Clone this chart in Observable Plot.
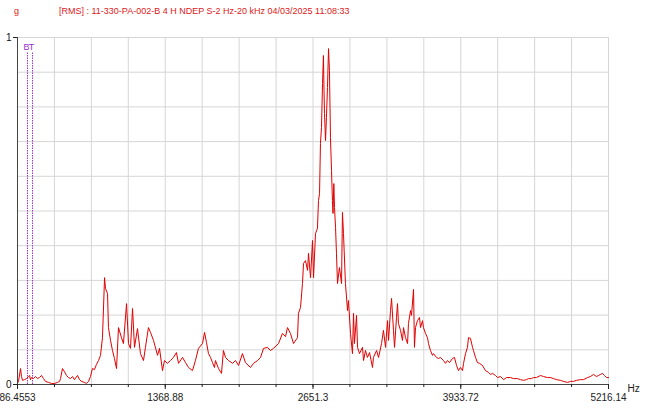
<!DOCTYPE html>
<html><head><meta charset="utf-8">
<script src="https://cdn.jsdelivr.net/npm/d3@7"></script>
<script src="https://cdn.jsdelivr.net/npm/@observablehq/plot@0.6"></script>
<style>
body{margin:0;background:#fff;font-family:"Liberation Sans",Arial,sans-serif;}
#title{position:relative;height:24px;color:#dc2020;font-size:9px;white-space:nowrap;}
#title .unit{position:absolute;left:14px;top:6px;}
#title .main{position:absolute;left:59px;top:6px;}
</style></head><body>
<div id="title"><span class="unit">g</span><span class="main">[RMS] : 11-330-PA-002-B 4 H NDEP S-2 Hz-20 kHz 04/03/2025 11:08:33</span></div>
<div id="chart"></div>
<script>
const freqs = [
 86,95,113,121,130,147,165,182,191,199,208,225,243,260,277,295,312,329,356,382,408,434,451,
 460,477,494,512,529,546,564,581,607,625,642,668,685,703,720,737,755,772,790,807,
 824,842,850,868,876,894,911,928,946,963,989,1006,1033,1050,1067,1085,1102,1128,1154,1180,1197,1223,1241,1267,1302,1319,1345,1362,1388,1414,1440,1466,1484,1519,1545,1571,1605,1631,1657,1692,1710,1727,1744,1762,1779,1796,1805,1831,
 1857,1874,1892,1918,1953,1979,2005,2039,2065,2109,2135,2170,2196,2222,2256,2282,2308,2352,2386,2413,2430,2456,2482,2517,2525,2543,2560,2569,2586,2604,2612,2630,2647,2656,2673,2690,2699,
 2708,2716,2725,2734,2742,2747,2751,2760,2768,2777,2786,2794,2799,2803,2812,2820,2825,2832,2838,2847,2855,2864,2881,2899,2907,2916,2933,
 2951,2959,2977,2994,3003,3011,3029,3038,3055,3081,3090,3107,3124,3142,3168,3176,3203,3220,3246,3263,3281,3298,3307,3324,3333,3350,3359,3376,3385,3393,3411,3428,3437,3454,3472,3480,3498,3506,3524,3532,3541,3558,3576,3584,3602,3610,3628,3645,3654,3671,3688,3697,3723,3741,3758,3784,3801,3819,3836,3862,3879,3897,3914,3931,3949,3958,3975,3992,4001,4018,
 4036,4044,4062,4079,4096,4122,4148,4174,4192,4209,4235,4253,4279,4305,4331,4365,4392,4426,4452,4478,4504,4522,4548,4565,4591,4626,4652,4687,4713,4739,4765,4799,4825,4860,4886,4912,4938,4973,4999,5034,5060,5086,5112,5130,5147,5164,5181,5199,5216
];
const amps = [
 .003,.009,.046,.023,.012,.014,.017,.023,.026,.014,.020,.017,.023,.017,.020,.026,.017,.009,.006,.003,.003,.006,.009,
 .017,.046,.037,.026,.020,.017,.023,.014,.026,.014,.009,.006,.003,.009,.023,.046,.043,.058,.069,.084,
 .135,.308,.277,.262,.164,.127,.098,.075,.046,.164,.135,.118,.233,.118,.104,.219,.107,.161,.089,.069,.107,.164,.150,.127,.084,.104,.040,.069,.061,.069,.078,.092,.061,.078,.063,.049,.040,.069,.104,.118,.150,.121,.089,.078,.063,.049,.069,.046,
 .032,.098,.078,.069,.061,.069,.055,.089,.063,.049,.061,.069,.078,.104,.107,.098,.104,.118,.147,.138,.164,.147,.118,.135,.205,.222,.291,.349,.357,.329,.378,.308,.415,.308,.435,.450,.530,
 .550,.695,.741,.867,.948,.847,.781,.703,.769,.856,.968,.905,.798,.712,.617,.530,.493,.579,.510,.452,.378,.291,.337,.291,.496,.435,.291,
 .213,.242,.147,.089,.205,.118,.199,.107,.089,.107,.069,.098,.078,.092,.049,.078,.098,.078,.118,.156,.107,.184,.127,.213,.248,.156,.107,.193,.233,.176,.156,.127,.164,.135,.118,.176,.213,.199,.274,.107,.164,.184,.193,.164,.184,.164,.147,.135,.118,.098,.084,.089,.078,.075,.078,.069,.061,.069,.063,.075,.078,.055,.040,.049,.040,.061,.089,.107,.135,.133,
 .107,.098,.078,.063,.061,.055,.040,.035,.029,.032,.026,.020,.023,.014,.020,.020,.017,.017,.014,.012,.014,.017,.017,.020,.020,.026,.023,.020,.020,.017,.014,.012,.009,.006,.009,.009,.012,.014,.014,.020,.023,.029,.023,.026,.029,.032,.026,.020,.020
];
const xTickLabels = [86.4553, 1368.88, 2651.3, 3933.72, 5216.14];
const xGrid = [86.4553, 407.06, 727.66, 1048.27, 1368.88, 1689.48, 2010.09, 2330.69, 2651.3, 2971.9, 3292.51, 3613.11, 3933.72, 4254.32, 4574.93, 4895.53, 5216.14];
const yGrid = [0, 0.1, 0.2, 0.3, 0.4, 0.5, 0.6, 0.7, 0.8, 0.9, 1];
const yTickLabels = [0, 1];
const markerFreqs = [173, 217];
const markerLabels = ["B", "T"];
const markerTop = 0.957;
const markerLabelY = 0.972;

const data = freqs.map((f, i) => ({f, a: amps[i]}));

const chart = Plot.plot({
  width: 649, height: 386,
  marginTop: 13, marginBottom: 26, marginLeft: 17, marginRight: 41,
  x: {domain: [86.4553, 5216.14]},
  y: {domain: [0, 1]},
  style: {fontFamily: "Liberation Sans, Arial, sans-serif", fontSize: "10px", color: "#222", background: "#fff", overflow: "visible"},
  marks: [
    Plot.ruleX(xGrid, {stroke: "#d6d6d6", strokeOpacity: 1}),
    Plot.ruleY(yGrid, {stroke: "#d6d6d6", strokeOpacity: 1}),
    Plot.ruleX(markerFreqs, {y1: 0, y2: markerTop, stroke: "#a030d0", strokeDasharray: "1.5,1", strokeWidth: 1}),
    Plot.text(markerLabels, {x: markerFreqs, y: markerLabelY, fill: "#9a30cc", fontSize: 9, dx: -1}),
    Plot.line(data, {x: "f", y: "a", stroke: "#e00000", strokeWidth: 1}),
    Plot.ruleY([0], {stroke: "#444"}),
    Plot.ruleX([86.4553], {stroke: "#444"}),
    Plot.axisX(xGrid, {tickSize: 3, tickFormat: () => "", label: null}),
    Plot.axisX(xTickLabels, {tickSize: 5, tickPadding: 4, tickFormat: d => String(d), label: null, fill: "#222"}),
    Plot.axisY(yTickLabels, {tickSize: 4, tickPadding: 2, tickFormat: d => String(d), label: null, fill: "#111"}),
    Plot.text(["Hz"], {frameAnchor: "bottom-right", dx: 19, dy: 7, textAnchor: "start", fill: "#222"})
  ]
});
document.getElementById("chart").appendChild(chart);
</script>
</body></html>
